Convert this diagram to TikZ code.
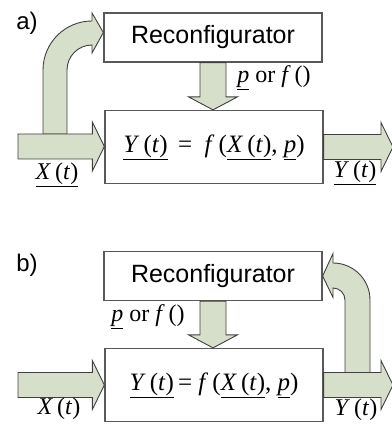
\documentclass[tikz,border=0pt]{standalone}
\usepackage{fontspec}
\setmainfont{Liberation Serif}
\newfontfamily\boxfont{Liberation Sans}
\usetikzlibrary{calc}

\definecolor{sage}{RGB}{214,223,202}
\definecolor{edgegray}{RGB}{89,89,89}

% fat horizontal arrow: shaft from #1 to the tip at #2
\newcommand{\hfat}[2]{%
  \draw[fatarrow] let \p1=(#1), \p2=(#2) in
    (\x1,\y1+12.5pt) -- (\x2-12pt,\y1+12.5pt) -- (\x2-12pt,\y1+24.5pt) -- (\x2,\y1)
    -- (\x2-12pt,\y1-24.5pt) -- (\x2-12pt,\y1-12.5pt) -- (\x1,\y1-12.5pt) -- cycle;}
% fat downward arrow
\newcommand{\vfat}[2]{%
  \draw[fatarrow] let \p1=(#1), \p2=(#2) in
    (\x1-13pt,\y1) -- (\x1-13pt,\y2+13pt) -- (\x1-24.5pt,\y2+13pt) -- (\x1,\y2)
    -- (\x1+24.5pt,\y2+13pt) -- (\x1+13pt,\y2+13pt) -- (\x1+13pt,\y1) -- cycle;}

\begin{document}
\begin{tikzpicture}[
    x=1pt, y=-1pt,
    block/.style={draw=edgegray, line width=1.3pt, fill=white, inner sep=0pt,
                  minimum width=218pt},
    reconf/.style={block, minimum height=49pt, font=\boxfont\fontsize{25}{30}\selectfont},
    func/.style={block, minimum height=73pt, font=\fontsize{25}{30}\selectfont},
    fatarrow/.style={draw=black!75, line width=0.9pt, fill=sage, line join=miter},
    sig/.style={font=\fontsize{24}{28}\selectfont, inner sep=0pt},
    tag/.style={font=\boxfont\fontsize{24}{28}\selectfont, inner sep=0pt},
]
  \useasboundingbox (0,0) rectangle (391,427);

  % panel a
  \node[tag] (tag_a) at (27,23) {a)};
  \node[reconf] (rec_a) at (213,37.5) {Reconfigurator};
  \node[func] (fun_a) at (214,147)
    {\underline{\textit{Y}\,(\textit{t})}\, = \ \textit{f}\,(\underline{\textit{X}\,(\textit{t})}, \underline{\textit{p}})};
  \coordinate (in_a) at (18,146.5);
  \coordinate (out_a) at (393,146.5);
  \coordinate (tip_a) at ($(rec_a.north west)!0.4!(rec_a.south west)$);

  \draw[fatarrow] (43,134) -- (43,70) arc[start angle=180, end angle=270, radius=49]
    -- (92,13) -- (tip_a) -- (92,53) -- (92,45)
    arc[start angle=270, end angle=180, radius=25] -- (67,134) -- cycle;
  \hfat{in_a}{fun_a.west}
  \hfat{fun_a.east}{out_a}
  \vfat{rec_a.south}{fun_a.north}

  \node[sig] (par_a) at (274,78) {\underline{\textit{p}} or \textit{f}\,()};
  \node[sig] (x_a) at (57,175) {\underline{\textit{X}\,(\textit{t})}};
  \node[sig] (y_a) at (355,173) {\underline{\textit{Y}\,(\textit{t})}};

  % panel b
  \node[tag] (tag_b) at (27,265) {b)};
  \node[reconf] (rec_b) at (213,276) {Reconfigurator};
  \node[func] (fun_b) at (214,385)
    {\underline{\textit{Y}\,(\textit{t})}\,= \textit{f}\,(\underline{\textit{X}\,(\textit{t})}, \underline{\textit{p}})};
  \coordinate (in_b) at (18,385);
  \coordinate (out_b) at (393,385);

  \draw[fatarrow] (370,372.5) -- (370,300) arc[start angle=0, end angle=-90, radius=37]
    -- (333,253.5) -- (rec_b.east) -- (333,297.5) -- (333,288)
    arc[start angle=-90, end angle=0, radius=12] -- (345,372.5) -- cycle;
  \hfat{in_b}{fun_b.west}
  \hfat{fun_b.east}{out_b}
  \vfat{rec_b.south}{fun_b.north}

  \node[sig] (par_b) at (148,317) {\underline{\textit{p}} or \textit{f}\,()};
  \node[sig] (x_b) at (59,409) {\textit{X}\,(\textit{t})};
  \node[sig] (y_b) at (356,410) {\textit{Y}\,(\textit{t})};
\end{tikzpicture}
\end{document}
